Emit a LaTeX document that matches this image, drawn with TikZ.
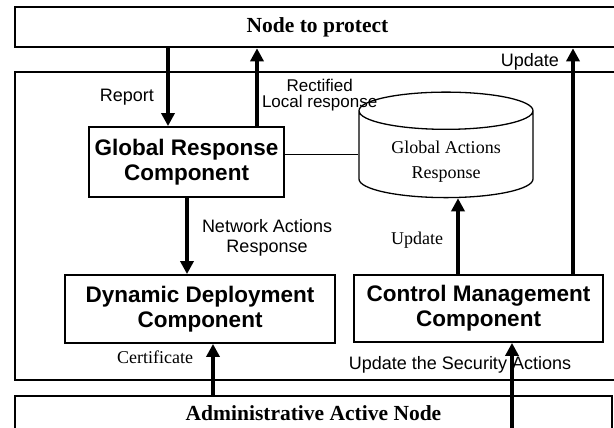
\documentclass[tikz,border=0pt]{standalone}
\usepackage{fontspec}
\setmainfont{Liberation Serif}
\setsansfont{Liberation Sans}
\usetikzlibrary{arrows.meta}
\usetikzlibrary{positioning}
\usetikzlibrary{shapes.geometric}

\begin{document}
\begin{tikzpicture}[x=1pt, y=-1pt,
		layer/.style={draw, line width=2.6pt, inner sep=0pt, font=\bfseries\fontsize{21.5}{22}\selectfont},
		comp/.style={draw, line width=1.8pt, align=center, inner sep=0pt, font=\sffamily\bfseries\fontsize{22.5}{25}\selectfont},
		store/.style={draw, line width=1.3pt, cylinder, shape border rotate=90, aspect=0.34, inner sep=0pt, font=\fontsize{18}{24}\selectfont},
		flow/.style={line width=4pt, -{Triangle[width=13pt,length=13pt]}},
		lbl/.style={font=\sffamily\fontsize{18}{16}\selectfont, align=center, inner sep=0pt},
		slbl/.style={font=\fontsize{18}{20}\selectfont, inner sep=0pt}]
	% page size
	\useasboundingbox (0,0) rectangle (614,428);
	\clip (0,0) rectangle (614,428);
	\fill[white] (0,0) rectangle (614,428);
	
	% layers
	\node[layer, minimum width=605, minimum height=40] (protect) at (317.5,27) {Node to protect};
	\node[layer, minimum width=605, minimum height=308] (core) at (317.5,226) {};
	\node[layer, minimum width=597, minimum height=34] (admin) at (313.5,413) {Administrative Active Node};
	
	% components
	\node[comp, minimum width=195, minimum height=70] (global) at (186.5,162) {Global Response\\Component};
	\node[comp, minimum width=270, minimum height=68] (deploy) at (200,309) {Dynamic Deployment\\Component};
	\node[comp, minimum width=249, minimum height=67] (control) at (478.5,308.5) {Control Management\\Component};
	\node[store, minimum width=174, minimum height=85] (actions) at (446,154.5)
		{\raisebox{-7pt}[\height][\depth]{\begin{tabular}{@{}c@{}}Global Actions\\[1pt]Response\end{tabular}}};
	
	% x positions of the arrows
	\coordinate (xrep) at (168,0);
	\coordinate (xrect) at (257,0);
	\coordinate (xnet) at (187,0);
	\coordinate (xcert) at (213,0);
	\coordinate (xupd) at (458,0);
	\coordinate (xtop) at (573,0);
	\coordinate (sec) at (512,440);
	
	% connectors
	\draw[flow] (protect.south -| xrep) -- (global.north -| xrep) node[lbl, pos=.63, left=12pt] {Report};
	\draw[flow] (global.north -| xrect) -- (protect.south -| xrect) node[lbl, pos=.4, right=3pt, font=\sffamily\fontsize{17}{16.5}\selectfont] {Rectified\\Local response};
	\draw[flow] (control.north -| xtop) -- (protect.south -| xtop) node[lbl, pos=.94, left=12pt] {Update};
	\draw[flow] (global.south -| xnet) -- (deploy.north -| xnet) node[lbl, pos=.53, right=13pt, font=\sffamily\fontsize{18}{20}\selectfont] {Network Actions\\Response};
	\draw[flow] (control.north -| xupd) -- (actions.south -| xupd) node[slbl, pos=.45, left=13pt] {Update};
	\draw[line width=1.3pt] (actions.west -| global.east) -- (actions.west);
	\draw[flow] (admin.north -| xcert) -- (deploy.south -| xcert) node[slbl, pos=.74, left=18pt] {Certificate};
	\draw[flow] (sec) -- (control.south -| sec) node[lbl, pos=.77, xshift=-52pt] {Update the Security Actions};
\end{tikzpicture}
\end{document}
